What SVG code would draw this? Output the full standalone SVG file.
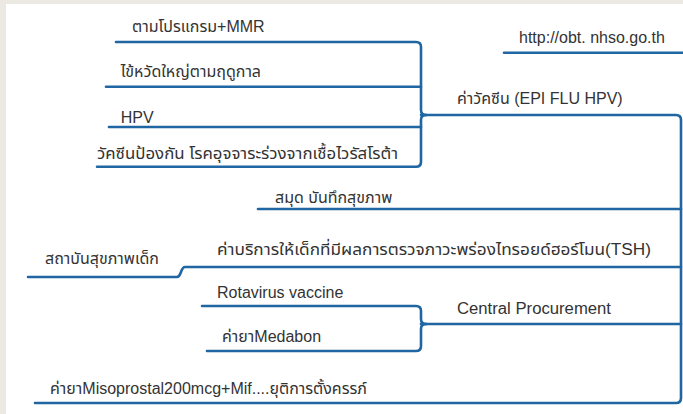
<svg xmlns="http://www.w3.org/2000/svg" width="683" height="414" viewBox="0 0 683 414">
<style>
text{font-family:"Liberation Sans","Noto Sans Thai","Noto Sans","DejaVu Sans",sans-serif;font-size:16px;fill:#333333}
.ln{fill:none;stroke:#1f66a2;stroke-width:2.6;stroke-linecap:round;stroke-linejoin:round}
</style>
<rect x="0" y="0" width="683" height="414" fill="#ece9e2"/>
<rect x="6" y="4" width="677" height="410" fill="#ffffff"/>
<g id="connectors" class="ln">
<path d="M116,42 H416 Q421,42 421,47 V110 Q421,115 426,115"/>
<path d="M97,166.7 H416 Q421,166.7 421,161.7 V120 Q421,115 426,115"/>
<path d="M106,86.7 H421"/>
<path d="M109,127 H421"/>
<path d="M421,115 H676 Q681,115 681,120 V398 Q681,403 676,403 H35"/>
<path d="M504,52.7 H683"/>
<path d="M258,209 H681"/>
<path d="M28,277 H177 C181.5,277 180.5,267 185,267 H681"/>
<path d="M202,306 H416 Q421,306 421,311 V319 Q421,324 426,324"/>
<path d="M207,351 H416 Q421,351 421,346 V329 Q421,324 426,324"/>
<path d="M421,324 H681"/>
</g>
<g id="n-mmr"><text x="132" y="31.7">ตามโปรแกรม+MMR</text></g>
<g id="n-flu"><text x="120.7" y="76.5">ไข้หวัดใหญ่ตามฤดูกาล</text></g>
<g id="n-hpv"><text x="120.7" y="122.5">HPV</text></g>
<g id="n-rota-th"><text x="97" y="159" textLength="301" lengthAdjust="spacingAndGlyphs">วัคซีนป้องกัน โรคอุจจาระร่วงจากเชื้อไวรัสโรต้า</text></g>
<g id="n-url"><text x="519" y="43.3">http://obt. nhso.go.th</text></g>
<g id="n-vaccine"><text x="457" y="104">ค่าวัคซีน (EPI FLU HPV)</text></g>
<g id="n-book"><text x="275" y="202.5">สมุด บันทึกสุขภาพ</text></g>
<g id="n-tsh"><text x="217" y="255" textLength="434" lengthAdjust="spacingAndGlyphs">ค่าบริการให้เด็กที่มีผลการตรวจภาวะพร่องไทรอยด์ฮอร์โมน(TSH)</text></g>
<g id="n-root"><text x="45" y="263.5">สถาบันสุขภาพเด็ก</text></g>
<g id="n-rotavirus"><text x="217" y="297.7">Rotavirus vaccine</text></g>
<g id="n-medabon"><text x="222" y="341.7">ค่ายาMedabon</text></g>
<g id="n-central"><text x="457" y="314" textLength="154" lengthAdjust="spacingAndGlyphs">Central Procurement</text></g>
<g id="n-miso"><text x="50" y="394">ค่ายาMisoprostal200mcg+Mif....ยุติการตั้งครรภ์</text></g>
</svg>
